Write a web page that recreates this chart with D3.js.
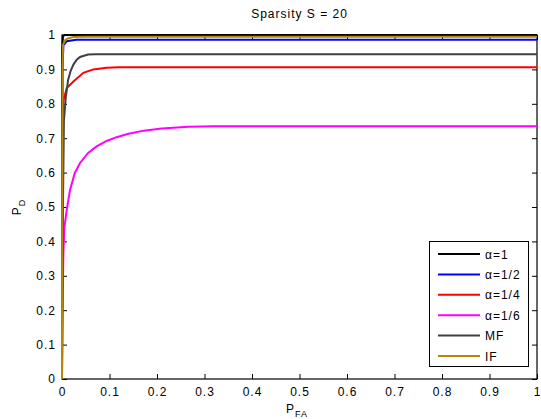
<!DOCTYPE html>
<html>
<head>
<meta charset="utf-8">
<script src="https://cdn.jsdelivr.net/npm/d3@7"></script>
<style>
  body { margin: 0; background: #fff; }
  text { font-family: "Liberation Sans", Arial, sans-serif; font-size: 12px; letter-spacing: 1px; fill: #000; }
</style>
</head>
<body>
<svg width="541" height="419"></svg>
<script>
// valorile (P_FA, P_D)
let faAlpha1 = [0, 0.0005, 0.002, 0.005, 1];
let pdAlpha1 = [0, 0.95, 0.995, 1, 1];

let faAlpha2 = [0, 0.001, 0.003, 0.01, 0.03, 1];
let pdAlpha2 = [0, 0.9, 0.97, 0.982, 0.986, 0.986];

let faAlpha4 = [0, 0.0005, 0.001, 0.003, 0.01, 0.024, 0.045, 0.066, 0.094, 0.12, 1];
let pdAlpha4 = [0, 0.6, 0.76, 0.81, 0.846, 0.865, 0.89, 0.9, 0.905, 0.906, 0.906];

let faAlpha6 = [0, 0.001, 0.002, 0.003, 0.005, 0.01, 0.017, 0.027, 0.038, 0.055, 0.073, 0.094, 0.115, 0.14, 0.172, 0.21, 0.266, 0.32, 1];
let pdAlpha6 = [0, 0.2, 0.29, 0.37, 0.44, 0.492, 0.55, 0.599, 0.628, 0.657, 0.676, 0.692, 0.703, 0.713, 0.722, 0.728, 0.733, 0.735, 0.735];

let faMF = [0, 0.002, 0.004, 0.008, 0.013, 0.018, 0.024, 0.031, 0.038, 0.055, 0.07, 1];
let pdMF = [0, 0.5, 0.75, 0.82, 0.87, 0.895, 0.914, 0.928, 0.936, 0.943, 0.944, 0.944];

let faIF = [0, 0.001, 0.002, 0.006, 0.012, 0.024, 0.05, 1];
let pdIF = [0, 0.9, 0.97, 0.984, 0.99, 0.994, 0.995, 0.995];

let seriesNames = ["\u03b1=1", "\u03b1=1/2", "\u03b1=1/4", "\u03b1=1/6", "MF", "IF"];
let seriesColors = ["#000000", "#0000ff", "#ff0000", "#ff00ff", "#404040", "#b8860b"];
let seriesFa = [faAlpha1, faAlpha2, faAlpha4, faAlpha6, faMF, faIF];
let seriesPd = [pdAlpha1, pdAlpha2, pdAlpha4, pdAlpha6, pdMF, pdIF];

let tickValues = [0, 0.1, 0.2, 0.3, 0.4, 0.5, 0.6, 0.7, 0.8, 0.9, 1];

let svg = d3.select("svg");
let mLeft = 62, mRight = 537, mTop = 35, mBottom = 379;

let x = d3.scaleLinear().domain([0, 1]).range([mLeft, mRight]);
let y = d3.scaleLinear().domain([0, 1]).range([mBottom, mTop]);

let fmt = d => d === 0 ? "0" : d === 1 ? "1" : d3.format(".1f")(d);

// axele in stil matlab, cu tick-uri spre interior pe toate laturile
let axB = svg.append("g").attr("transform", `translate(0,${mBottom})`)
    .call(d3.axisBottom(x).tickValues(tickValues).tickFormat(fmt).tickSizeInner(-5).tickSizeOuter(0).tickPadding(8));
let axT = svg.append("g").attr("transform", `translate(0,${mTop})`)
    .call(d3.axisTop(x).tickValues(tickValues).tickFormat("").tickSizeInner(-5).tickSizeOuter(0));
let axL = svg.append("g").attr("transform", `translate(${mLeft},0)`)
    .call(d3.axisLeft(y).tickValues(tickValues).tickFormat(fmt).tickSizeInner(-5).tickSizeOuter(0).tickPadding(6));
let axR = svg.append("g").attr("transform", `translate(${mRight},0)`)
    .call(d3.axisRight(y).tickValues(tickValues).tickFormat("").tickSizeInner(-5).tickSizeOuter(0));

[axB, axT, axL, axR].forEach(a => {
    a.selectAll(".domain").remove();
    a.selectAll("line").attr("stroke", "#000");
    a.selectAll("text").attr("font-size", null).attr("font-family", null).attr("fill", "#000");
});

svg.append("rect")
    .attr("x", mLeft).attr("y", mTop)
    .attr("width", mRight - mLeft).attr("height", mBottom - mTop)
    .attr("fill", "none").attr("stroke", "#000").attr("stroke-width", 1.2);

// curbele ROC
let line = d3.line().x(d => x(d[0])).y(d => y(d[1]));
seriesNames.forEach((name, i) => {
    let pts = seriesFa[i].map((f, j) => [f, seriesPd[i][j]]);
    svg.append("path")
        .datum(pts)
        .attr("d", line)
        .attr("fill", "none")
        .attr("stroke", seriesColors[i])
        .attr("stroke-width", 2);
});

// titlu si etichete
svg.append("text").attr("x", (mLeft + mRight) / 2).attr("y", 18)
    .attr("text-anchor", "middle").text("Sparsity S = 20");

let xl = svg.append("text").attr("x", 297).attr("y", 413).attr("text-anchor", "middle");
xl.append("tspan").text("P");
xl.append("tspan").attr("dy", 4).attr("font-size", "9px").text("FA");

let yl = svg.append("text").attr("transform", "translate(21,207) rotate(-90)").attr("text-anchor", "middle");
yl.append("tspan").text("P");
yl.append("tspan").attr("dy", 4).attr("font-size", "9px").text("D");

// legenda
let lg = svg.append("g");
lg.append("rect").attr("x", 429.5).attr("y", 241.5).attr("width", 99).attr("height", 125)
    .attr("fill", "#fff").attr("stroke", "#000").attr("stroke-width", 1);
seriesNames.forEach((name, i) => {
    let yy = 254 + i * 20.4;
    lg.append("line").attr("x1", 438).attr("x2", 480).attr("y1", yy).attr("y2", yy)
        .attr("stroke", seriesColors[i]).attr("stroke-width", 2);
    lg.append("text").attr("x", 485).attr("y", yy + 4.5).text(name);
});
</script>
</body>
</html>
